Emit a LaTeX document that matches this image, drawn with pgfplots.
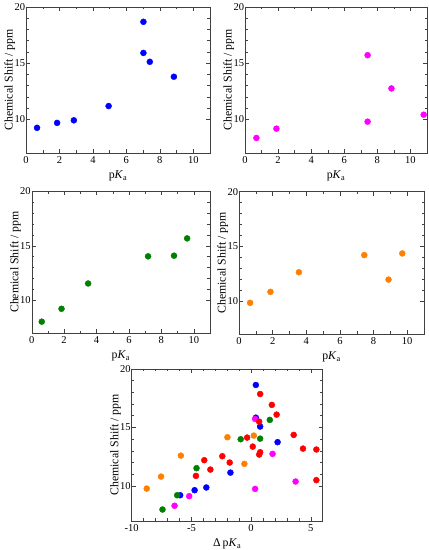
\documentclass[border=0pt]{standalone}
\usepackage{fontspec}
\setmainfont{Liberation Serif}
\usepackage{pgfplots}
\pgfplotsset{compat=1.18}
\definecolor{cblue}{RGB}{0,0,255}
\definecolor{cmag}{RGB}{255,0,255}
\definecolor{cgreen}{RGB}{0,128,0}
\definecolor{corange}{RGB}{255,128,0}
\definecolor{cred}{RGB}{255,0,0}
\pgfplotsset{
  panel/.style={
    scale only axis,
    anchor=south west,
    ymin=7, ymax=20,
    ytick={10,15,20},
    minor y tick num=4,
    tick align=inside,
    axis line style={black!75},
    every tick/.style={black!75},
    major tick length=4pt,
    minor tick length=2.5pt,
    tick label style={font=\fontsize{10.5}{12}\selectfont},
    yticklabel style={inner xsep=0.8pt},
    label style={font=\fontsize{11.8}{13}\selectfont},
    ylabel shift=-5pt,
    /pgf/number format/assume math mode=true,
    ylabel={Chemical Shift / ppm},
    xlabel={p\textit{K}\textsubscript{a}},
    only marks,
    every axis plot/.append style={mark=*, mark size=3pt},
  },
  pk/.style={xmin=0, xmax=11, xtick={0,2,4,6,8,10}, minor x tick num=1},
}
\begin{document}
\begin{tikzpicture}
\path[use as bounding box] (0,0) rectangle (429pt,550pt);
% Panel 1 (blue)
\begin{axis}[panel, pk, at={(26pt,397pt)}, width=184pt, height=146pt]
\addplot[cblue, mark options={fill=cblue, draw=cblue}] coordinates {
(0.66,9.24) (1.86,9.68) (2.86,9.91) (4.94,11.18) (7.02,18.68) (7.02,15.91) (7.40,15.12) (8.84,13.79)};
\end{axis}
% Panel 2 (magenta)
\begin{axis}[panel, pk, at={(245pt,397pt)}, width=182pt, height=146pt]
\addplot[cmag, mark options={fill=cmag, draw=cmag}] coordinates {
(0.69,8.34) (1.90,9.17) (7.41,15.71) (7.41,9.79) (8.85,12.75) (10.8,10.41)};
\end{axis}
% Panel 3 (green)
\begin{axis}[panel, pk, at={(31.7pt,216.7pt)}, width=178.3pt, height=142.3pt]
\addplot[cgreen, mark options={fill=cgreen, draw=cgreen}] coordinates {
(0.62,8.06) (1.84,9.24) (3.48,11.55) (7.18,14.03) (8.78,14.09) (9.59,15.67)};
\end{axis}
% Panel 4 (orange)
\begin{axis}[panel, pk, at={(239pt,216pt)}, width=185pt, height=142.3pt]
\addplot[corange, mark options={fill=corange, draw=corange}] coordinates {
(0.66,9.85) (1.87,10.85) (3.56,12.64) (7.45,14.21) (8.89,11.97) (9.71,14.36)};
\end{axis}
% Panel 5 (all)
\begin{axis}[panel, at={(131.7pt,29pt)}, width=191pt, height=152.3pt,
  xmin=-10, xmax=6, xtick={-10,-5,0,5}, minor x tick num=4,
  xlabel={Δ\,p\textit{K}\textsubscript{a}}]
\addplot[cblue, mark options={fill=cblue, draw=cblue}] coordinates {
(-5.94,9.20) (-4.73,9.63) (-3.75,9.86) (-1.73,11.13) (0.40,18.61) (0.40,15.82) (0.76,15.06) (2.22,13.73)};
\addplot[cmag, mark options={fill=cmag, draw=cmag}] coordinates {
(-6.41,8.30) (-5.18,9.12) (0.34,15.71) (0.34,9.74) (1.80,12.73) (3.73,10.37)};
\addplot[cgreen, mark options={fill=cgreen, draw=cgreen}] coordinates {
(-7.42,7.98) (-6.19,9.20) (-4.57,11.51) (-0.87,13.98) (0.76,14.03) (1.57,15.63)};
\addplot[corange, mark options={fill=corange, draw=corange}] coordinates {
(-8.74,9.77) (-7.54,10.79) (-5.88,12.58) (-1.98,14.15) (-0.56,11.88) (0.23,14.29)};
\addplot[cred, mark options={fill=cred, draw=cred}] coordinates {
(-4.62,10.85) (-3.92,12.19) (-3.41,11.39) (-2.41,12.53) (-1.79,11.99) (-0.33,14.12) (0.14,13.35) (0.68,15.48) (0.76,17.84) (0.76,12.87) (0.68,12.67) (1.74,16.91) (2.14,16.08) (3.57,14.35) (4.35,13.18) (5.47,13.10) (5.47,10.49)};
\end{axis}
\end{tikzpicture}
\end{document}
